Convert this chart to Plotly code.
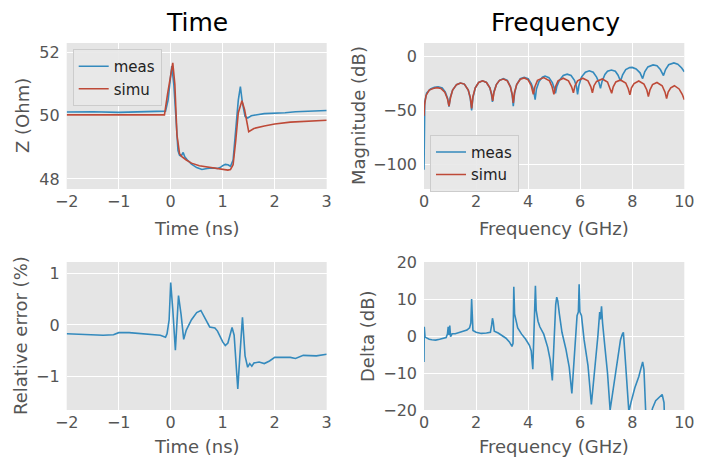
import plotly.graph_objects as go

W, H = 707, 468

# ---------------- Data ----------------
# Time domain impedance (ns, Ohm)
t_meas = [-2, -1.5, -1, -0.5, -0.2, -0.1, -0.05, 0.0, 0.02, 0.06, 0.1, 0.14, 0.17, 0.2, 0.24, 0.27,
          0.32, 0.4, 0.5, 0.6, 0.7, 0.8, 0.9, 0.95, 1.0, 1.05, 1.1, 1.15, 1.2, 1.25, 1.3, 1.34,
          1.38, 1.43, 1.48, 1.55, 1.6, 1.8, 2.0, 2.2, 2.4, 2.6, 2.8, 3.0]
z_meas = [50.12, 50.13, 50.11, 50.12, 50.13, 50.15, 50.5, 51.2, 51.58, 51.0, 49.9, 48.9, 48.75, 48.72, 48.84, 48.7,
          48.6, 48.47, 48.36, 48.3, 48.33, 48.35, 48.33, 48.36, 48.42, 48.46, 48.45, 48.4, 48.6, 49.5, 50.5, 50.93,
          50.4, 49.98, 49.93, 50.0, 50.02, 50.07, 50.08, 50.1, 50.13, 50.14, 50.15, 50.17]

t_simu = [-2, -0.12, -0.06, 0.0, 0.04, 0.08, 0.12, 0.17, 0.22, 0.3, 0.4, 0.55, 0.7, 0.85, 1.0, 1.1,
          1.15, 1.2, 1.25, 1.3, 1.37, 1.42, 1.5, 1.6, 1.8, 2.0, 2.3, 2.6, 3.0]
z_simu = [50.03, 50.03, 50.7, 51.35, 51.68, 51.0, 49.4, 48.8, 48.7, 48.6, 48.5, 48.42, 48.38, 48.34, 48.31, 48.28,
          48.3, 48.45, 49.2, 50.1, 50.48, 50.2, 49.5, 49.6, 49.68, 49.74, 49.8, 49.83, 49.86]

# Relative error (ns, %)
t_err = [-2, -1.7, -1.5, -1.3, -1.1, -1.0, -0.8, -0.5, -0.3, -0.2, -0.1, -0.07, -0.03, 0.0, 0.04, 0.09,
         0.15, 0.2, 0.25, 0.3, 0.4, 0.5, 0.58, 0.65, 0.75, 0.85, 0.9, 1.0, 1.05, 1.1, 1.15, 1.18,
         1.22, 1.25, 1.29, 1.33, 1.38, 1.43, 1.48, 1.52, 1.56, 1.6, 1.7, 1.8, 1.9, 2.0, 2.3, 2.4,
         2.55, 2.8, 3.0]
e_err = [-0.17, -0.18, -0.18, -0.2, -0.19, -0.15, -0.15, -0.17, -0.19, -0.2, -0.24, -0.17, 0.1, 0.82, 0.3, -0.49,
         0.57, 0.2, -0.28, -0.1, 0.1, 0.24, 0.28, 0.15, -0.04, -0.06, -0.12, -0.33, -0.4, -0.35, -0.15, -0.05,
         -0.2, -0.6, -1.24, -0.6, 0.15, -0.6, -0.82, -0.75, -0.8, -0.74, -0.72, -0.75, -0.7, -0.63, -0.63, -0.65,
         -0.59, -0.6, -0.57]

# Magnitude (GHz, dB)
f_meas = [0.0, 0.01, 0.03, 0.1, 0.25, 0.4, 0.55, 0.7, 0.82, 0.91, 0.96, 1.01, 1.1, 1.25, 1.4, 1.55,
          1.7, 1.78, 1.83, 1.88, 1.97, 2.1, 2.25, 2.4, 2.53, 2.59, 2.63, 2.68, 2.78, 2.9, 3.05, 3.2,
          3.32, 3.39, 3.43, 3.48, 3.56, 3.7, 3.85, 4.0, 4.12, 4.21, 4.27, 4.32, 4.42, 4.55, 4.65, 4.8,
          4.93, 5.0, 5.05, 5.1, 5.2, 5.35, 5.5, 5.65, 5.78, 5.86, 5.9, 5.95, 6.05, 6.2, 6.35, 6.5,
          6.63, 6.72, 6.78, 6.84, 6.95, 7.05, 7.2, 7.35, 7.45, 7.55, 7.63, 7.75, 7.9, 8.0, 8.15, 8.3,
          8.4, 8.48, 8.6, 8.8, 8.95, 9.08, 9.2, 9.28, 9.4, 9.6, 9.75, 9.9, 10.0]
m_meas = [-105, -50, -42, -34, -30, -28.5, -28, -29, -33, -39, -46.5, -38, -31, -26, -24.5, -25.5,
          -31, -39, -50, -38, -29, -24, -22.5, -24, -29, -35, -42, -33, -26, -22, -20.5, -22,
          -28, -36, -46, -34, -26, -20.5, -19.2, -20.5, -25, -31, -40, -30, -23, -19, -18, -19.5,
          -24, -29, -34, -28, -22, -17.5, -16.3, -17.5, -22, -28, -35, -27, -19, -14.5, -13.2, -14.5,
          -19, -24, -29.5, -23, -16.5, -13.5, -12.4, -13.5, -17, -22.6, -17, -12, -10.2, -10, -11.5, -15,
          -20.4, -14, -9.5, -7.7, -8.5, -12, -17.6, -12, -7.5, -5.8, -7, -10.5, -14]

f_simu = [0.0, 0.02, 0.08, 0.2, 0.35, 0.5, 0.65, 0.8, 0.9, 0.96, 1.02, 1.1, 1.25, 1.4, 1.55, 1.7,
          1.78, 1.83, 1.88, 1.97, 2.1, 2.25, 2.4, 2.53, 2.6, 2.64, 2.69, 2.78, 2.9, 3.05, 3.2, 3.32,
          3.39, 3.43, 3.48, 3.56, 3.7, 3.85, 4.0, 4.12, 4.2, 4.26, 4.36, 4.6, 4.82, 4.92, 4.99, 5.05,
          5.15, 5.35, 5.55, 5.67, 5.74, 5.8, 5.9, 6.1, 6.3, 6.41, 6.47, 6.53, 6.63, 6.85, 7.05, 7.15,
          7.21, 7.27, 7.37, 7.55, 7.75, 7.85, 7.91, 7.97, 8.07, 8.25, 8.45, 8.56, 8.62, 8.68, 8.78, 8.95,
          9.15, 9.26, 9.32, 9.38, 9.48, 9.62, 9.8, 9.92, 10.0]
m_simu = [-55, -45, -36, -31, -29.5, -28.8, -29.5, -33, -39, -46, -38, -31, -26, -24.5, -25.5, -31,
          -38, -48, -37, -29, -24, -22.5, -24, -29, -35, -41, -33, -26, -22, -20.8, -22.5, -28,
          -35, -43, -33, -26, -21, -19.8, -21.5, -27, -35, -28, -22, -19.5, -22.5, -28, -35, -28,
          -22.5, -20, -22.5, -28, -33.5, -27, -22.5, -20, -22.5, -28, -33.5, -27, -23, -20.7, -23.5, -29,
          -34, -28, -23.5, -21.7, -24.5, -30, -35.5, -29, -25, -22.6, -25.5, -31, -37, -31, -26, -24,
          -27, -33, -39, -33, -29, -27, -30, -35, -40]

# Delta (GHz, dB)
f_delta = [0.0, 0.01, 0.04, 0.1, 0.2, 0.3, 0.45, 0.6, 0.75, 0.85, 0.9, 0.93, 0.96, 0.99, 1.02, 1.08,
           1.2, 1.35, 1.5, 1.65, 1.75, 1.8, 1.83, 1.85, 1.88, 2.0, 2.2, 2.4, 2.55, 2.6, 2.63, 2.66,
           2.7, 2.85, 3.0, 3.15, 3.28, 3.38, 3.42, 3.45, 3.48, 3.52, 3.6, 3.75, 3.9, 4.05, 4.12, 4.18,
           4.23, 4.28, 4.31, 4.38, 4.45, 4.6, 4.75, 4.85, 4.93, 5.0, 5.06, 5.1, 5.14, 5.2, 5.3, 5.45,
           5.58, 5.68, 5.8, 5.88, 5.93, 5.96, 5.99, 6.05, 6.15, 6.3, 6.43, 6.55, 6.68, 6.75, 6.78, 6.82,
           6.86, 6.95, 7.05, 7.15, 7.3, 7.42, 7.55, 7.62, 7.66, 7.72, 7.8, 7.87, 7.95, 8.1, 8.25, 8.4,
           8.45, 8.52, 8.7, 8.78, 8.9, 9.05, 9.15, 9.22, 9.28]
d_delta = [-7, 2.5, -0.3, -0.6, -0.9, -1.0, -1.1, -0.9, -0.7, -0.4, 0.5, 2.5, 0.3, 2.8, -0.2, 0.6,
           0.6, 1.0, 1.2, 1.6, 2.2, 3.5, 10, 5, 1.5, 1.0, 0.7, 0.8, 1.0, 3, 4.8, 3.8,
           1.3, 0.8, 0.2, -0.6, -1.6, -2.8, -2, 13.3, 6, 4.5, 2.2, 0.5, -0.8, -2.5, -4, -9,
           0, 13.6, 7, 4, 2.5, 0.5, -3, -6.5, -12, 0, 8.5, 10.5, 9.5, 6, 1, -3.5,
           -8.5, -15.5, -2, 5.5, 6.5, 14, 6.5, 5.5, -1, -8, -18.5, -10, 0, 6.5, 4.5, 8,
           3.5, -3, -10, -20, -13, -8, -1, 0.5, 1, -5, -14, -20.5, -18, -14, -11, -7,
           -9, -21, -22, -19.5, -17.5, -16.5, -15.8, -18, -30]

# ---------------- Style ----------------
BLUE = "#348ABD"
RED = "#BE4A38"
BG = "#E5E5E5"
TXT = "#555555"
FONT = "DejaVu Sans"

def px_x(p):
    return p / W

def px_y(p):
    return 1 - p / H

fig = go.Figure()
lw = 1.6
fig.add_trace(go.Scatter(x=t_meas, y=z_meas, mode="lines", name="meas", line=dict(color=BLUE, width=lw),
                         xaxis="x", yaxis="y", legend="legend"))
fig.add_trace(go.Scatter(x=t_simu, y=z_simu, mode="lines", name="simu", line=dict(color=RED, width=lw),
                         xaxis="x", yaxis="y", legend="legend"))
fig.add_trace(go.Scatter(x=f_meas, y=m_meas, mode="lines", name="meas", line=dict(color=BLUE, width=lw),
                         xaxis="x2", yaxis="y2", legend="legend2"))
fig.add_trace(go.Scatter(x=f_simu, y=m_simu, mode="lines", name="simu", line=dict(color=RED, width=lw),
                         xaxis="x2", yaxis="y2", legend="legend2"))
fig.add_trace(go.Scatter(x=t_err, y=e_err, mode="lines", showlegend=False, line=dict(color=BLUE, width=lw),
                         xaxis="x3", yaxis="y3"))
fig.add_trace(go.Scatter(x=f_delta, y=d_delta, mode="lines", showlegend=False, line=dict(color=BLUE, width=lw),
                         xaxis="x4", yaxis="y4"))

# axes domains in pixels
L1, R1 = 66.7, 326.7
L2, R2 = 424.0, 684.3
T1, B1 = 43.0, 189.0
T2, B2 = 262.0, 410.0

def ax(domain, rng, tickvals, anchor, standoff, **kw):
    d = dict(domain=domain, range=rng, tickvals=tickvals, anchor=anchor,
             showgrid=True, gridcolor="white", gridwidth=1.3, zeroline=False,
             showline=False, ticks="", ticklabelstandoff=standoff, automargin=False,
             tickfont=dict(family=FONT, size=16, color=TXT))
    d.update(kw)
    return d

XS, YS = 1, 6
fig.update_layout(
    width=W, height=H, margin=dict(l=0, r=0, t=0, b=0, autoexpand=False),
    paper_bgcolor="white", plot_bgcolor=BG,
    font=dict(family=FONT, color=TXT),
    xaxis=ax([px_x(L1), px_x(R1)], [-2, 3], [-2, -1, 0, 1, 2, 3], "y", XS),
    yaxis=ax([px_y(B1), px_y(T1)], [47.68, 52.31], [48, 50, 52], "x", YS),
    xaxis2=ax([px_x(L2), px_x(R2)], [0, 10], [0, 2, 4, 6, 8, 10], "y2", XS),
    yaxis2=ax([px_y(B1), px_y(T1)], [-123, 12.7], [-100, -50, 0], "x2", YS),
    xaxis3=ax([px_x(L1), px_x(R1)], [-2, 3], [-2, -1, 0, 1, 2, 3], "y3", XS),
    yaxis3=ax([px_y(B2), px_y(T2)], [-1.65, 1.22], [-1, 0, 1], "x3", YS),
    xaxis4=ax([px_x(L2), px_x(R2)], [0, 10], [0, 2, 4, 6, 8, 10], "y4", XS),
    yaxis4=ax([px_y(B2), px_y(T2)], [-20, 20], [-20, -10, 0, 10, 20], "x4", YS),
    legend=dict(x=px_x(72.7), y=px_y(49), xanchor="left", yanchor="top",
                bgcolor="rgba(232,232,232,0.9)", bordercolor="#CCCCCC", borderwidth=1,
                font=dict(family=FONT, size=15, color="#222222"), tracegroupgap=0),
    legend2=dict(x=px_x(430), y=px_y(134.7), xanchor="left", yanchor="top",
                 bgcolor="rgba(232,232,232,0.9)", bordercolor="#CCCCCC", borderwidth=1,
                 font=dict(family=FONT, size=15, color="#222222"), tracegroupgap=0),
)

annots = [
    dict(text="Time", x=px_x(196.7), y=px_y(22), size=25, color="black", angle=0),
    dict(text="Frequency", x=px_x(555), y=px_y(22), size=25, color="black", angle=0),
    dict(text="Time (ns)", x=px_x(196.7), y=px_y(228), size=18, color=TXT, angle=0),
    dict(text="Frequency (GHz)", x=px_x(554), y=px_y(228), size=18, color=TXT, angle=0),
    dict(text="Time (ns)", x=px_x(196.7), y=px_y(446), size=18, color=TXT, angle=0),
    dict(text="Frequency (GHz)", x=px_x(554), y=px_y(446), size=18, color=TXT, angle=0),
    dict(text="Z (Ohm)", x=px_x(22), y=px_y(116), size=18, color=TXT, angle=-90),
    dict(text="Magnitude (dB)", x=px_x(358), y=px_y(116), size=18, color=TXT, angle=-90),
    dict(text="Relative error (%)", x=px_x(20), y=px_y(336), size=18, color=TXT, angle=-90),
    dict(text="Delta (dB)", x=px_x(367), y=px_y(336), size=18, color=TXT, angle=-90),
]
for a in annots:
    fig.add_annotation(text=a["text"], x=a["x"], y=a["y"], xref="paper", yref="paper",
                       xanchor="center", yanchor="middle", showarrow=False, textangle=a["angle"],
                       font=dict(family=FONT, size=a["size"], color=a["color"]))

fig.write_html("out.html",
               post_script="document.body.style.margin='0';document.body.style.overflow='hidden';")
